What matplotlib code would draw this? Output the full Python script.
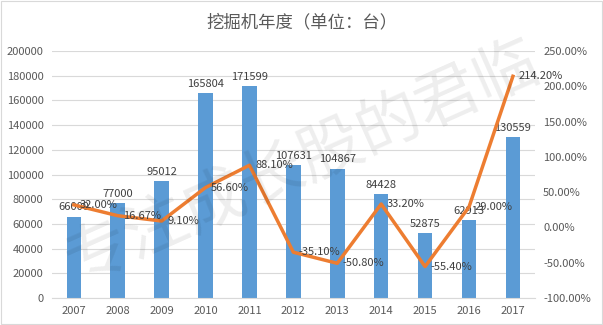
import numpy as np
import matplotlib.pyplot as plt
from matplotlib.ticker import FuncFormatter, MultipleLocator

plt.rcParams['font.family'] = ['Noto Sans CJK SC', 'DejaVu Sans']

# yearly excavator sales and growth rate
years = ['2007', '2008', '2009', '2010', '2011', '2012', '2013', '2014', '2015', '2016', '2017']
units = [66000, 77000, 95012, 165804, 171599, 107631, 104867, 84428, 52875, 62913, 130559]
growth = [32.00, 16.67, 9.10, 56.60, 88.10, -35.10, -50.80, 33.20, -55.40, 29.00, 214.20]

bar_color = '#5B9BD5'
line_color = '#ED7D31'
text_color = '#595959'

fig = plt.figure(figsize=(6.03, 3.25), dpi=100)
ax = fig.add_axes([0.086, 0.083, 0.801, 0.760])
x = np.arange(len(years))

ax.bar(x, units, width=0.33, color=bar_color, zorder=2)
ax.set_xlim(-0.5, len(years) - 0.5)
ax.set_ylim(0, 200000)
ax.yaxis.set_major_locator(MultipleLocator(20000))
ax.grid(axis='y', color='#D9D9D9', linewidth=0.8, zorder=0)
ax.set_xticks(x)
ax.set_xticklabels(years)
for s in ['top', 'right', 'left']:
    ax.spines[s].set_visible(False)
ax.spines['bottom'].set_color('#D9D9D9')
ax.tick_params(length=0, labelsize=8, colors=text_color, pad=6)

for xi, v in zip(x, units):
    ax.annotate(str(v), (xi, v), xytext=(0, 3), textcoords='offset points',
                ha='center', va='bottom', fontsize=8, color='#404040', zorder=5)

ax2 = ax.twinx()
ax2.plot(x, growth, color=line_color, linewidth=2.5, zorder=3)
ax2.set_ylim(-100, 250)
ax2.yaxis.set_major_locator(MultipleLocator(50))
ax2.yaxis.set_major_formatter(FuncFormatter(lambda v, p: f'{v:.2f}%'))
for s in ax2.spines.values():
    s.set_visible(False)
ax2.tick_params(length=0, labelsize=8, colors=text_color, pad=6)

for xi, g in zip(x, growth):
    ax2.annotate(f'{g:.2f}%', (xi, g), xytext=(4, 0), textcoords='offset points',
                 ha='left', va='center', fontsize=8, color='#404040', zorder=5)

fig.text(0.5, 0.93, '挖掘机年度（单位：台）', ha='center', va='center',
         fontsize=12.5, color=text_color)

# faint watermark across the chart
fig.text(0.5, 0.5, '专注成长股的君临', ha='center', va='center', fontsize=46,
         fontweight='light', color='#000000', alpha=0.07, rotation=24, zorder=0)

fig.patches.append(plt.Rectangle((0.002, 0.003), 0.996, 0.994, transform=fig.transFigure,
                                 fill=False, edgecolor='#D9D9D9', linewidth=0.8))

fig.savefig('out.png', dpi=100)
